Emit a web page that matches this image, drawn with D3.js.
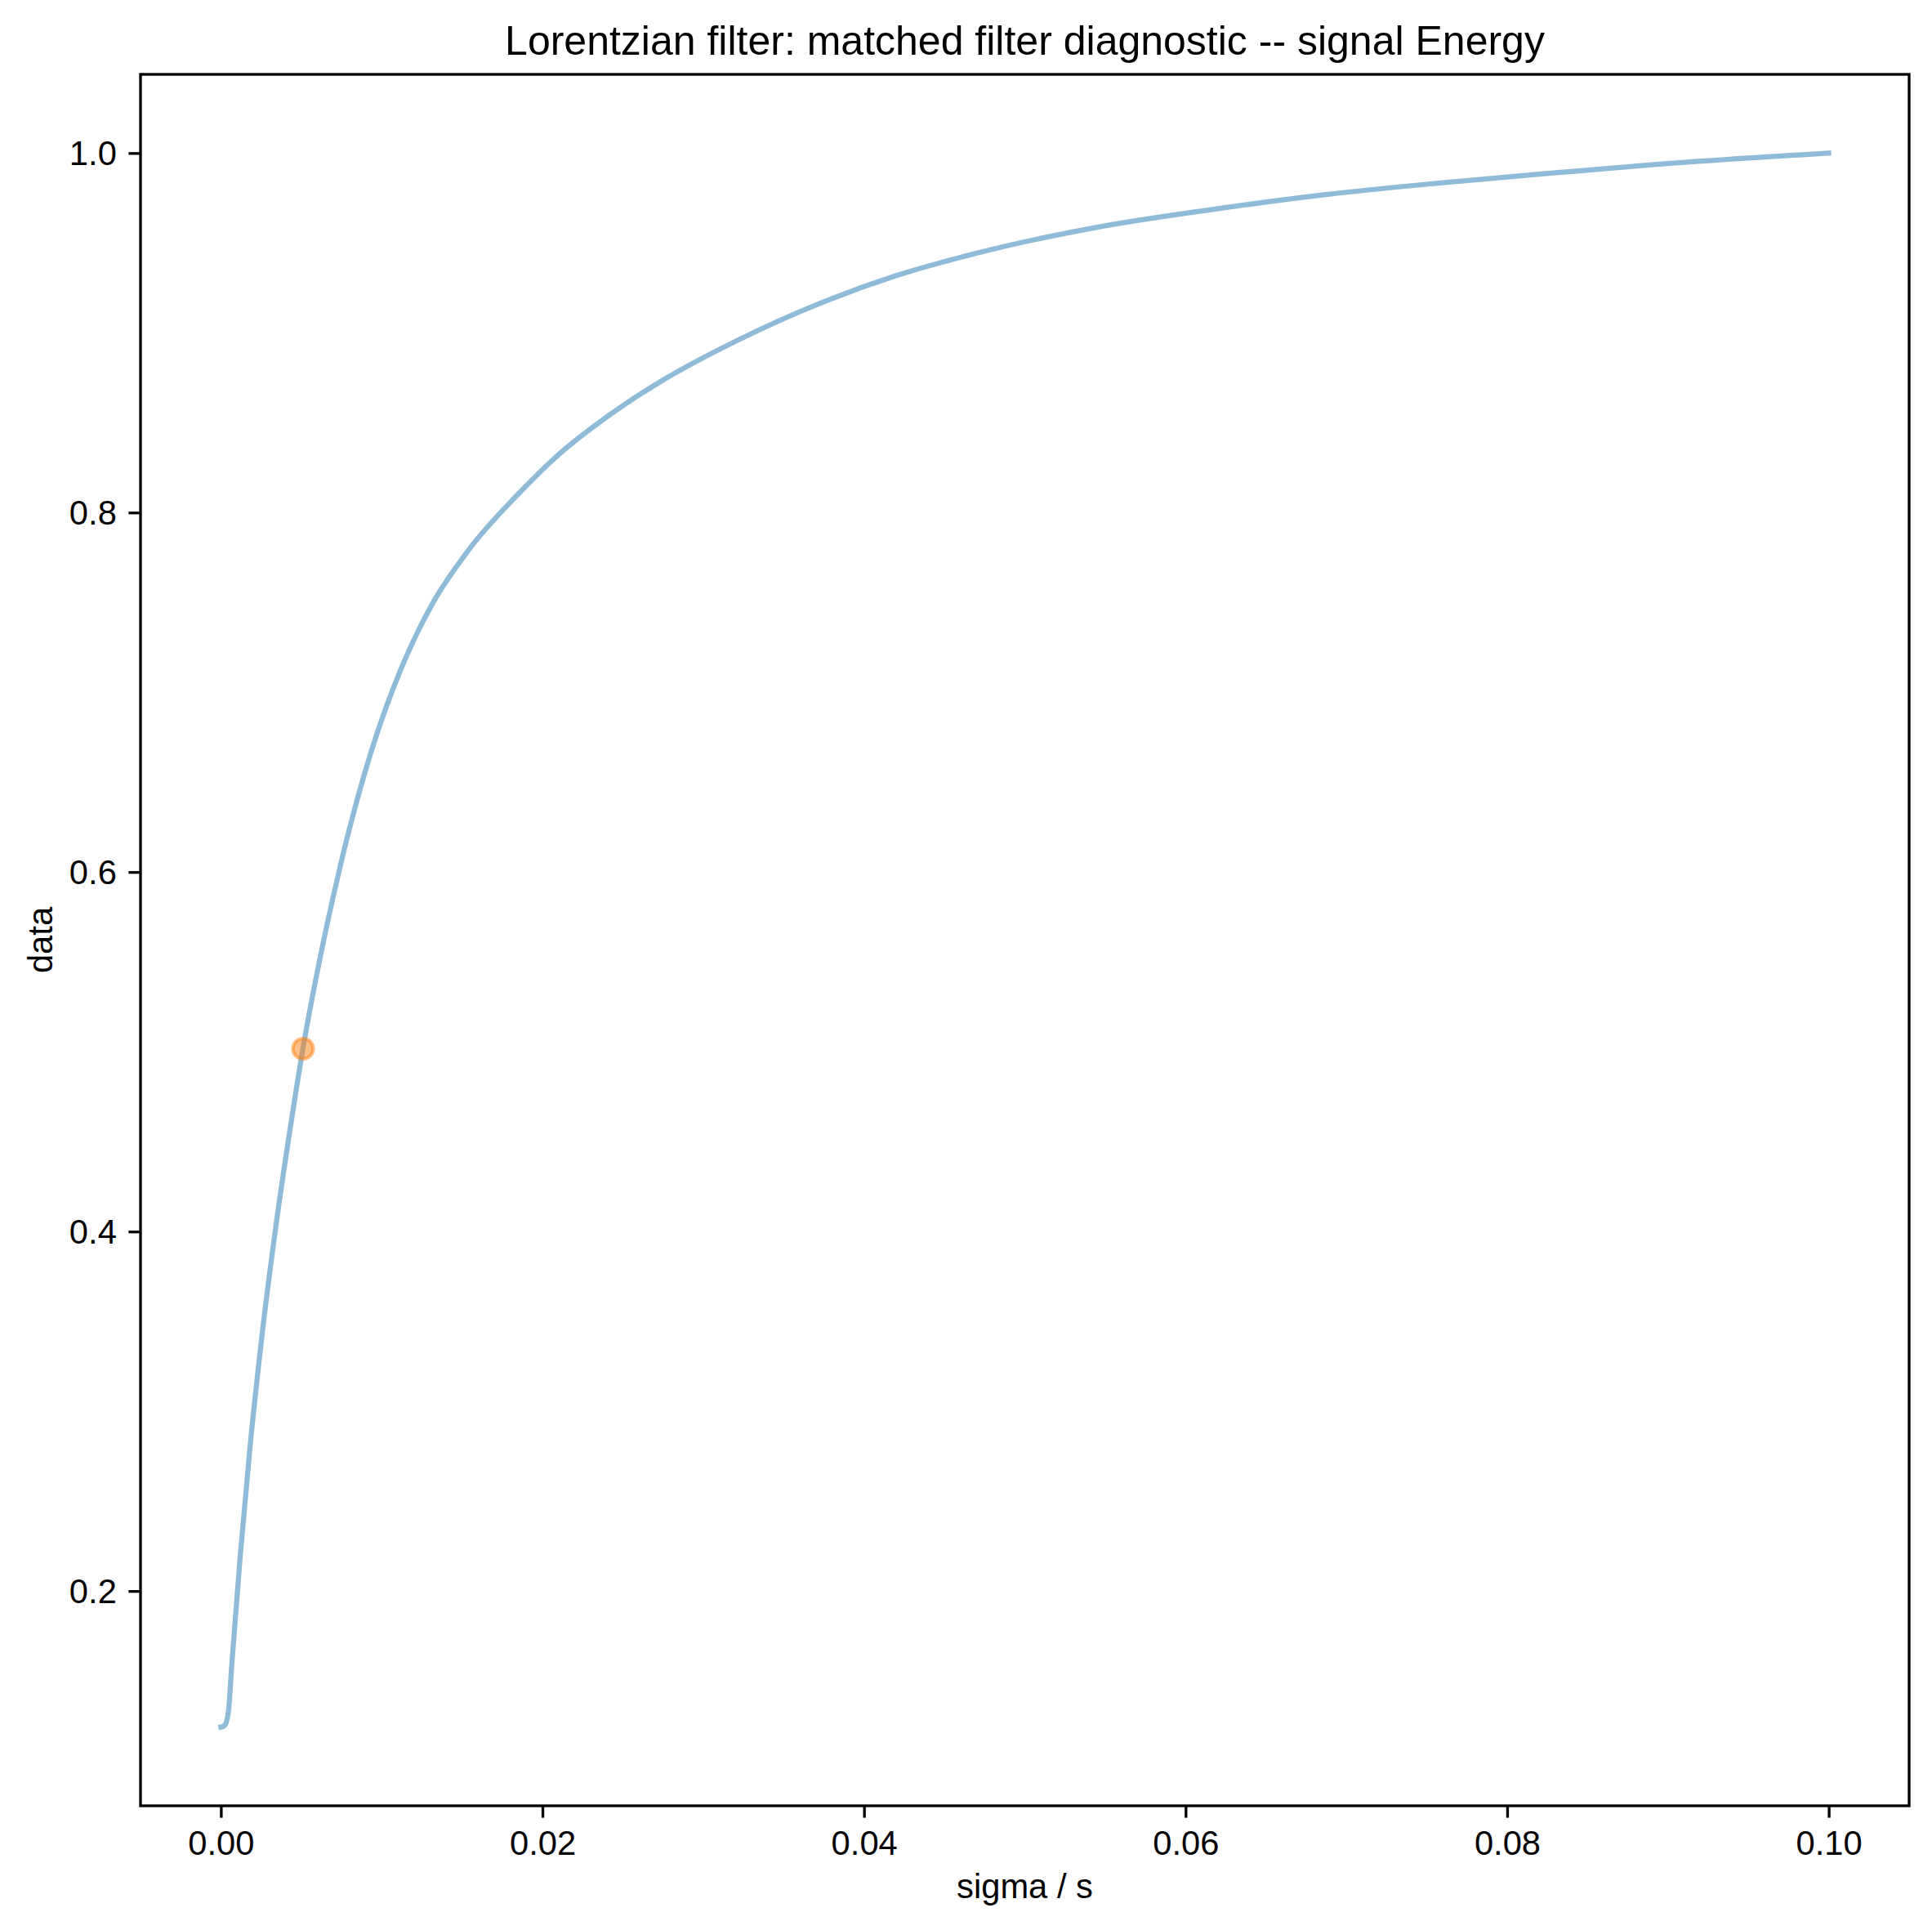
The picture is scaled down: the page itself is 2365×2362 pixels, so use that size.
<!DOCTYPE html>
<html>
<head>
<meta charset="utf-8">
<script src="https://cdn.jsdelivr.net/npm/d3@7"></script>
<style>
  body { margin: 0; background: #fff; }
  text { font-family: "Liberation Sans", Arial, sans-serif; fill: #000; }
</style>
</head>
<body>
<svg id="chart" width="2365" height="2362"></svg>
<script>
// values
var sigma = [0, 0.000158, 0.000335, 0.000488, 0.000666, 0.001194, 0.001806, 0.002535, 0.003399, 0.0044,
  0.005111, 0.006209, 0.00694, 0.007459, 0.009278, 0.011224, 0.01317, 0.015435, 0.018352, 0.020948,
  0.024185, 0.027426, 0.032288, 0.037146, 0.042008, 0.04687, 0.054359, 0.061488, 0.068616, 0.075744,
  0.082872, 0.09, 0.1];
var energy = [0.1243, 0.1247, 0.127, 0.1347, 0.1577, 0.2187, 0.2796, 0.3406, 0.4016, 0.4626,
  0.5022, 0.554, 0.5845, 0.6047, 0.665, 0.7135, 0.7495, 0.7795, 0.809, 0.8318,
  0.8544, 0.8733, 0.8965, 0.916, 0.9318, 0.944, 0.9585, 0.9684, 0.9768, 0.9833,
  0.9889, 0.9942, 1.0];
var marker = [{ sigma: 0.00511, value: 0.5017 }];
var xTicks = [0, 0.02, 0.04, 0.06, 0.08, 0.1];
var yTicks = [0.2, 0.4, 0.6, 0.8, 1.0];

var svg = d3.select("#chart"),
  axLeft = 172, axRight = 2337, axTop = 91, axBottom = 2210,
  fs = 41.7, tickLen = 14.6, pad = 14.6;

// matplotlib-like 5% margins
var xr = d3.extent(sigma), yr = d3.extent(energy);
var xm = (xr[1] - xr[0]) * 0.05, ym = (yr[1] - yr[0]) * 0.05;
var x = d3.scaleLinear().domain([xr[0] - xm, xr[1] + xm]).range([axLeft, axRight]);
var y = d3.scaleLinear().domain([yr[0] - ym, yr[1] + ym]).range([axBottom, axTop]);

var pts = sigma.map(function(s, i) { return [s, energy[i]]; });

var line = d3.line()
  .x(function(d) { return x(d[0]); })
  .y(function(d) { return y(d[1]); })
  .curve(d3.curveMonotoneX);

var plot = svg.append("g");
plot.append("path")
  .datum(pts)
  .attr("d", line)
  .attr("fill", "none")
  .attr("stroke", "#1f77b4")
  .attr("stroke-opacity", 0.5)
  .attr("stroke-width", 6.25)
  .attr("stroke-linecap", "square")
  .attr("stroke-linejoin", "round");

plot.selectAll("circle")
  .data(marker)
  .enter().append("circle")
  .attr("cx", function(d) { return x(d.sigma); })
  .attr("cy", function(d) { return y(d.value); })
  .attr("r", 12.5)
  .attr("fill", "#ff7f0e")
  .attr("fill-opacity", 0.5)
  .attr("stroke", "#ff7f0e")
  .attr("stroke-opacity", 0.5)
  .attr("stroke-width", 4.2);

// axes
var xAxis = d3.axisBottom(x).tickValues(xTicks).tickFormat(d3.format(".2f"))
  .tickSizeInner(tickLen).tickSizeOuter(0).tickPadding(pad);
var yAxis = d3.axisLeft(y).tickValues(yTicks).tickFormat(d3.format(".1f"))
  .tickSizeInner(tickLen).tickSizeOuter(0).tickPadding(pad);

var gx = svg.append("g").attr("transform", "translate(0," + axBottom + ")").call(xAxis);
var gy = svg.append("g").attr("transform", "translate(" + axLeft + ",0)").call(yAxis);
[gx, gy].forEach(function(g) {
  g.select(".domain").remove();
  g.selectAll(".tick line").attr("stroke", "#000").attr("stroke-width", 3.33);
  g.selectAll(".tick text").attr("font-size", fs).attr("fill", "#000")
    .style("font-family", "'Liberation Sans', Arial, sans-serif");
});
gx.selectAll(".tick text").attr("dy", null).attr("y", 2270 - axBottom);
gy.selectAll(".tick text").attr("dy", "0.35em");

// frame
svg.append("rect")
  .attr("x", axLeft).attr("y", axTop)
  .attr("width", axRight - axLeft).attr("height", axBottom - axTop)
  .attr("fill", "none").attr("stroke", "#000").attr("stroke-width", 3.33);

// labels
svg.append("text")
  .attr("x", (axLeft + axRight) / 2).attr("y", 67)
  .attr("text-anchor", "middle").attr("font-size", 50)
  .text("Lorentzian filter: matched filter diagnostic -- signal Energy");

svg.append("text")
  .attr("x", (axLeft + axRight) / 2).attr("y", 2323)
  .attr("text-anchor", "middle").attr("font-size", fs)
  .text("sigma / s");

svg.append("text")
  .attr("transform", "translate(64," + (axTop + axBottom) / 2 + ") rotate(-90)")
  .attr("text-anchor", "middle").attr("font-size", fs)
  .text("data");
</script>
</body>
</html>
